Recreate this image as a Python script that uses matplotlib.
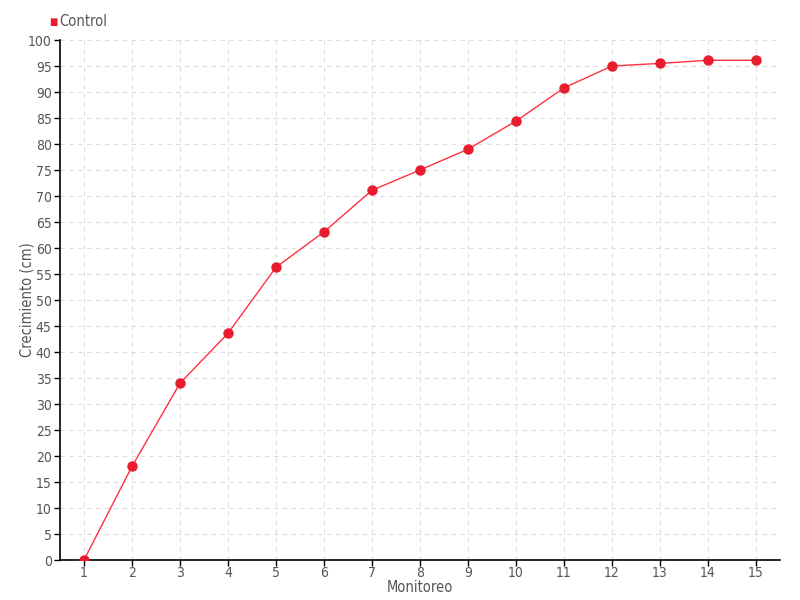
import matplotlib
matplotlib.use("Agg")
import matplotlib.pyplot as plt

monitoreo = list(range(1, 16))
crecimiento = [0, 18, 34, 43.6, 56.3, 63.1, 71.1, 75, 79, 84.4, 90.8, 95, 95.5, 96.1, 96.1]
series_name = "Control"
x_label = "Monitoreo"
y_label = "Crecimiento (cm)"

plt.rcParams['font.family'] = ['DejaVu Sans']
plt.rcParams['font.stretch'] = 'condensed'
plt.rcParams['font.weight'] = 'light'

fig = plt.figure(figsize=(8, 6), dpi=100)
ax = fig.add_axes([60/800, 40/600, 720/800, 520/600])

ax.plot(monitoreo, crecimiento, color="#ff3040", lw=1, zorder=3)
ax.plot(monitoreo, crecimiento, ls="none", marker="o", ms=6.5, color="#e81c2c",
        markeredgecolor="#e81c2c", zorder=4)

ax.set_xlim(0.5, 15.5)
ax.set_ylim(0, 100)
ax.set_xticks(monitoreo)
ax.set_yticks(range(0, 101, 5))
ax.grid(True, ls=(0, (4, 4)), color="#dddddd", lw=0.8)
ax.set_axisbelow(True)
for s in ["top", "right"]:
    ax.spines[s].set_visible(False)
for s in ["left", "bottom"]:
    ax.spines[s].set_linewidth(1.2)
    ax.spines[s].set_color("black")
ax.tick_params(axis="both", length=4, width=1, colors="black", labelcolor="#555555", labelsize=10)
ax.tick_params(axis="y", pad=2)
ax.tick_params(axis="x", pad=0.5)
ax.set_xlabel(x_label, color="#555555", fontsize=10.5)
ax.set_ylabel(y_label, color="#555555", fontsize=10.5)
ax.xaxis.set_label_coords(0.5, -(588 - 560) / 520)
ax.yaxis.set_label_coords(-(60 - 27) / 720, 0.5)
ax.xaxis.label.set_va("center")
ax.yaxis.label.set_va("center")

fig.text(49/800, 1 - 22/600, "■", color="#e81c2c", fontsize=7, va="center", ha="left")
fig.text(59/800, 1 - 22/600, series_name, color="#555555", fontsize=10.5, va="center", ha="left")

fig.savefig("out.png", dpi=100)
